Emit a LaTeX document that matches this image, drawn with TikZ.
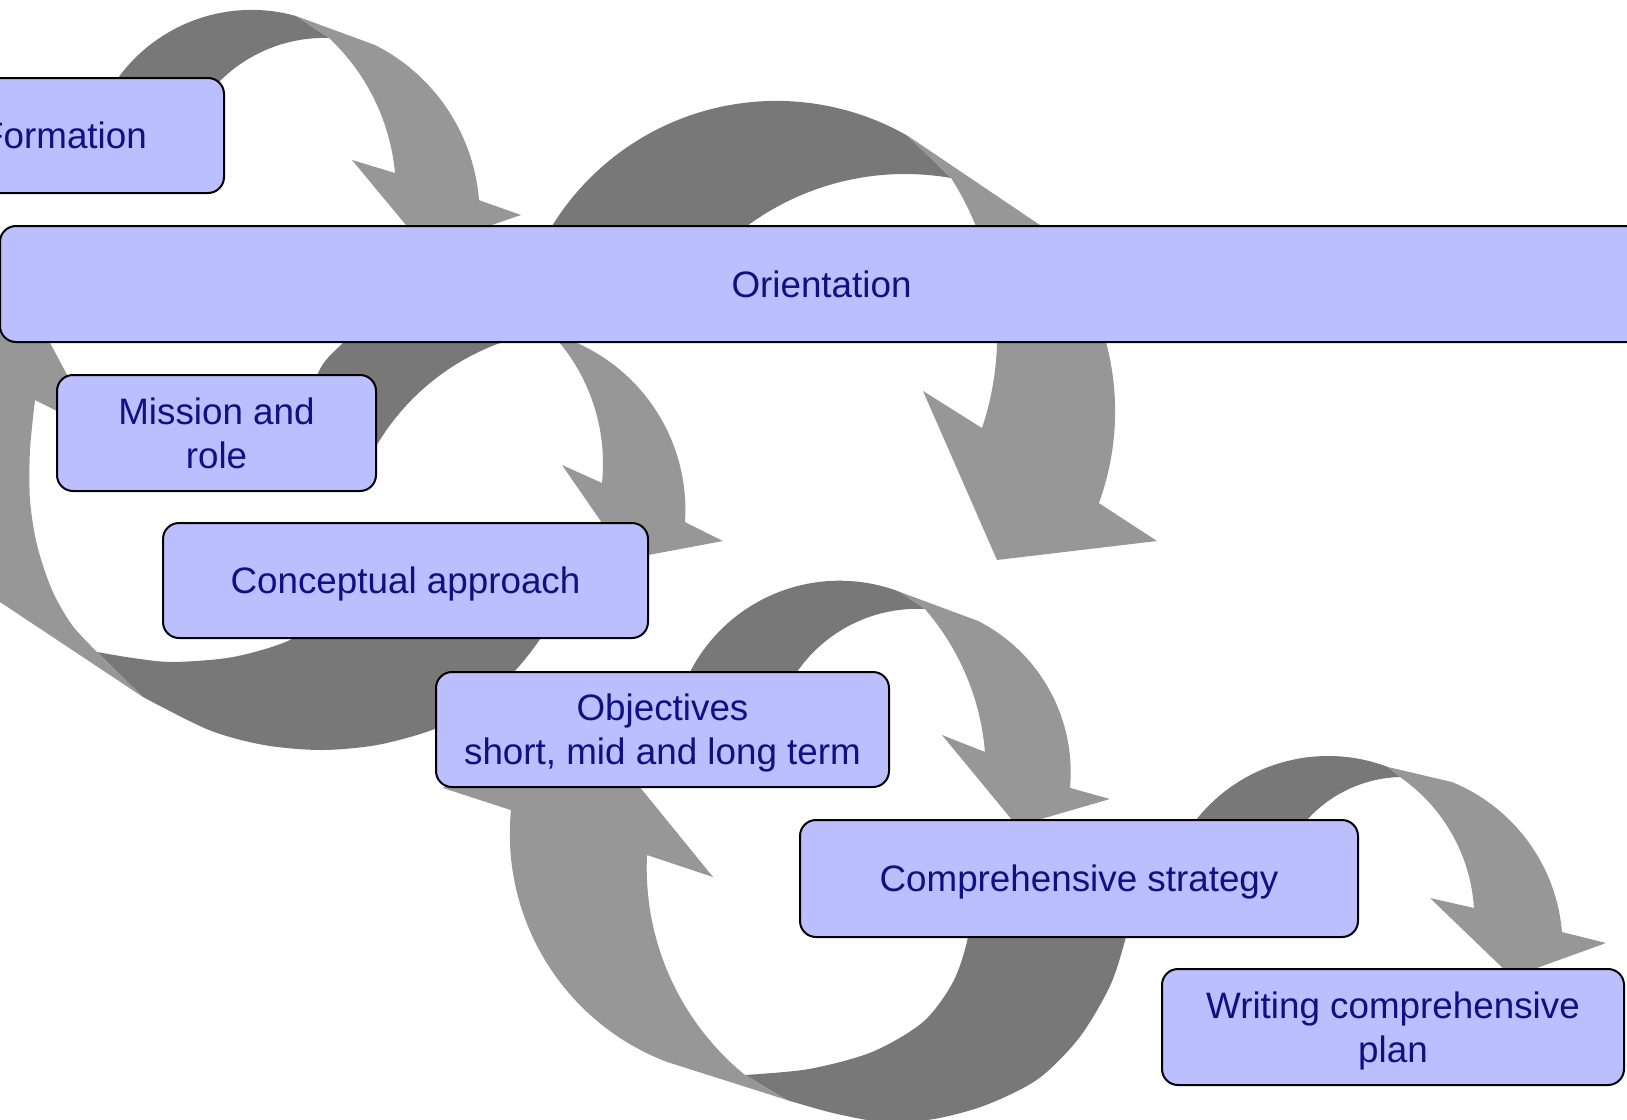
\documentclass[tikz,border=0pt]{standalone}
\usepackage{fontspec}
\setmainfont{Liberation Sans}
\definecolor{boxfill}{RGB}{187,190,255}
\definecolor{boxtext}{RGB}{16,16,128}
\definecolor{banddark}{RGB}{120,120,120}
\definecolor{bandlight}{RGB}{151,151,151}
\tikzset{
 box/.style={draw=black,line width=2pt,fill=boxfill,rounded corners=16pt,text=boxtext,align=center,inner sep=0pt,text depth=0pt,font=\fontsize{36.8pt}{44.2pt}\selectfont},
 backband/.style={fill=banddark},
 frontband/.style={fill=bandlight}
}
\begin{document}
\begin{tikzpicture}[x=1pt,y=-1pt]
 \useasboundingbox (0,0) rectangle (1627,1119);
 \fill[backband] ([shift={(251.6,174.9)}]-155:165) arc[start angle=-155,end angle=-74.4,radius=165] -- ([shift={(324.4,186.1)}]-88.2:148.2) arc[start angle=-88.2,end angle=-150,radius=148.2] -- cycle;
 \fill[frontband] (296,16) -- ([shift={(289,215.1)}]-63.2:190.6) arc[start angle=-63.2,end angle=-4.5,radius=190.6] -- (521,215) -- (425,248) -- (352,160) -- ([shift={(184.2,192.4)}]-5.26:211.7) arc[start angle=-5.26,end angle=-46.8,radius=211.7] -- cycle;
 \fill[backband] ([shift={(776.4,364.7)}]-155:263.8) arc[start angle=-155,end angle=-60.1,radius=263.8] -- ([shift={(905,440)}]-80:266) arc[start angle=-80,end angle=-135,radius=266] -- cycle;
 \fill[frontband] (908,136) -- ([shift={(846.6,411.3)}]-43.9:268.5) arc[start angle=-43.9,end angle=20,radius=268.5] -- (1157,541) -- (997,560) -- (923,391) -- ([shift={(705.1,335.4)}]18.5:292) arc[start angle=18.5,end angle=-32.6,radius=292] -- cycle;
 \fill[backband] plot[smooth] coordinates {(300,440) (318,373) (343,343) (390,303) (450,285) (505,292)} -- ([shift={(581.3,566.6)}]-100:237.9) arc[start angle=-100,end angle=-155,radius=237.9] -- cycle;
 \fill[frontband] (505,292) -- ([shift={(502.7,509.9)}]-66:182.7) arc[start angle=-66,end angle=3.8,radius=182.7] -- (723,541) -- (627,559) -- (562,465) -- ([shift={(412.8,463.6)}]5.85:190.2) arc[start angle=5.85,end angle=-44,radius=190.2] -- cycle;
 \fill[backband] plot[smooth] coordinates {(560,600) (540,639) (513,673) (475,708) (432,730) (377,745) (321,750) (264,745) (209,730) (143,697)} -- plot[smooth] coordinates {(97,652) (133,658) (173,662) (233,657) (290,640) (330,610)} -- cycle;
 \fill[frontband] (143,697) -- plot[smooth] coordinates {(0,602) (-50,567) (-70,490) (-75,430)} -- (-110,440) -- (16,279) -- (97,431) -- plot[smooth] coordinates {(35,400) (30,450) (30,500) (37,545) (52,590) (72,625) (97,652)} -- cycle;
 \fill[backband] ([shift={(839.5,748.8)}]-165:168.1) arc[start angle=-165,end angle=-68.9,radius=168.1] -- ([shift={(917.4,755.2)}]-87:146.4) arc[start angle=-87,end angle=-160,radius=146.4] -- cycle;
 \fill[frontband] (900,592) -- ([shift={(900.9,772.2)}]-63:169.8) arc[start angle=-63,end angle=5.3,radius=169.8] -- (1110,799) -- (1017,826) -- (942,735) -- ([shift={(736.1,772.4)}]-4.7:249.7) arc[start angle=-4.7,end angle=-40.9,radius=249.7] -- cycle;
 \fill[backband] ([shift={(1328.1,924.3)}]-155:168.3) arc[start angle=-155,end angle=-69.2,radius=168.3] -- ([shift={(1403.7,907.1)}]-91.6:130.2) arc[start angle=-91.6,end angle=-150,radius=130.2] -- cycle;
 \fill[frontband] (1388,767) -- ([shift={(1384.4,946.9)}]-67.7:178.2) arc[start angle=-67.7,end angle=-4.8,radius=178.2] -- (1606,943) -- (1512,977) -- (1430,898) -- ([shift={(1302,918.8)}]-3.6:172.3) arc[start angle=-3.6,end angle=-55.3,radius=172.3] -- cycle;
 \fill[backband] plot[smooth] coordinates {(1140,880) (1126,937) (1110,986) (1079,1038) (1038,1079) (986,1105) (934,1119) (883,1122) (833,1113) (787,1100)} -- plot[smooth] coordinates {(745,1075) (809,1069) (872,1052) (923,1022) (953,982) (968,937) (975,880)} -- cycle;
 \fill[frontband] (787,1100) -- ([shift={(753.8,833.9)}]110.8:244) arc[start angle=110.8,end angle=185.6,radius=244] -- (443,788) -- (569,700) -- (713,877) -- ([shift={(913.6,868.1)}]182.8:266.9) arc[start angle=182.8,end angle=129.2,radius=266.9] -- cycle;
 \node[box,minimum width=320pt,minimum height=115pt] (formation) at (64,135.5) {Formation};
 \node[box,minimum width=1643pt,minimum height=116pt] (orientation) at (821.5,284) {Orientation};
 \node[box,minimum width=319pt,minimum height=116pt] (mission) at (216.5,433) {Mission and\\role};
 \node[box,minimum width=485pt,minimum height=115pt] (concept) at (405.5,580.5) {Conceptual approach};
 \node[box,minimum width=453pt,minimum height=115pt] (objectives) at (662.5,729.5) {Objectives\\short, mid and long term};
 \node[box,minimum width=558pt,minimum height=117pt] (strategy) at (1079,878.5) {Comprehensive strategy};
 \node[box,minimum width=462pt,minimum height=116pt] (writing) at (1393,1027) {Writing comprehensive\\plan};
\end{tikzpicture}
\end{document}
